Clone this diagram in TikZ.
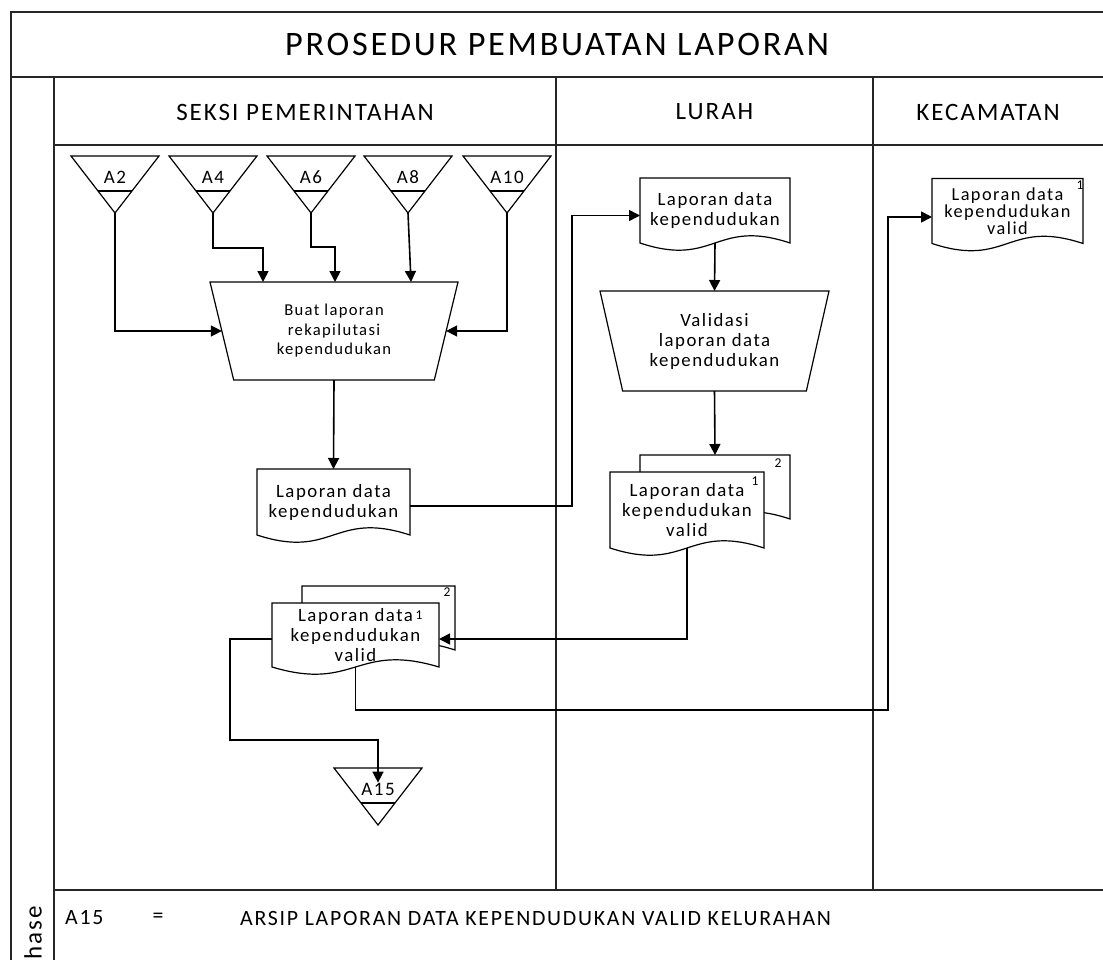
\documentclass[tikz,border=0pt]{standalone}
\usepackage{fontspec}
\setmainfont{Carlito}[LetterSpace=8]
\usetikzlibrary{shapes.geometric, arrows.meta, positioning, calc}
\pgfdeclarelayer{background}
\pgfsetlayers{background,main}

\tikzset{
  frameline/.style={line width=1.6pt, draw=black!85},
  shapeline/.style={line width=1.2pt},
  flow/.style={->, line width=1.6pt},
  docbox/.style={inner sep=0pt, outer sep=0pt, align=center, font=\fontsize{18.8}{20}\selectfont},
  manual/.style={trapezium, trapezium stretches body, shape border rotate=180, draw, shapeline, inner sep=0pt, outer sep=0pt, align=center},
  offtext/.style={inner sep=0pt, font=\fontsize{19}{20}\selectfont},
  numtext/.style={inner sep=0pt, font=\fontsize{13.5}{14}\selectfont},
  headtext/.style={font=\fontsize{25}{27}\selectfont},
  legend/.style={inner sep=0pt, font=\fontsize{21.8}{23}\selectfont},
}

% off-page connector: name, x, top y
\newcommand{\offpage}[3]{%
  \draw[shapeline] (#2-44,#3) -- (#2+44,#3) -- (#2,#3+57) -- cycle;
  \draw[shapeline] (#2-17,#3+35) -- (#2+17,#3+35);
  \node[offtext] (#1) at (#2,#3+21) {#1};
  \coordinate (#1-tip) at (#2,#3+57);
}

% document outline round a node
\newcommand{\docshape}[1]{%
  \draw[shapeline, fill=white] (#1.south east) -- (#1.north east) -- (#1.north west) -- (#1.south west)
    .. controls ($(#1.south west)!0.5!(#1.south east)+(0,25)$) and ($(#1.south west)!0.5!(#1.south east)+(0,-25)$) .. (#1.south east) -- cycle;
}

\begin{document}
\begin{tikzpicture}[x=1pt, y=-1pt, >={Triangle[length=11pt,width=11pt]}]
\useasboundingbox (0,0) rectangle (1103,960);
\clip (0,0) rectangle (1103,960);

% frame and lanes
\draw[frameline] (11,990) -- (11,12) -- (1110,12);
\draw[frameline] (11,77) -- (1110,77);
\draw[frameline] (54,990) -- (54,77);
\draw[frameline] (54,145) -- (1110,145);
\draw[frameline] (556,77) -- (556,890);
\draw[frameline] (873,77) -- (873,890);
\draw[frameline] (54,890) -- (1110,890);

\node[font=\fontsize{34.3}{36}\selectfont] (title) at (557,44) {PROSEDUR PEMBUATAN LAPORAN};
\node[headtext] (seksi) at (305,112) {SEKSI PEMERINTAHAN};
\node[headtext] (lurah) at (714.5,112) {LURAH};
\node[headtext] (camat) at (988,112) {KECAMATAN};
\node[headtext, rotate=90] (phase) at (33,940) {Phase};

% seksi pemerintahan
\offpage{A2}{115}{156}
\offpage{A4}{213}{156}
\offpage{A6}{311}{156}
\offpage{A8}{408}{156}
\offpage{A10}{507}{156}

\node[manual, trapezium angle=66, minimum width=248pt, minimum height=98pt, font=\fontsize{16.6}{19.5}\selectfont] (buat) at (334,331) {Buat laporan\\rekapilutasi\\kependudukan};
\node[docbox, minimum width=153pt, minimum height=66pt] (seksidoc) at (333.5,502) {Laporan data\\kependudukan};
\node[docbox, minimum width=167pt, minimum height=64pt] (seksivalid) at (355.5,635) {Laporan data\\kependudukan\\valid};
\node[docbox, minimum width=153pt, minimum height=64pt] (seksivalidb) at (378.5,618) {};
\node[numtext] (seksinum2) at ([xshift=-8,yshift=-6]seksivalidb.north east) {2};
\node[numtext] (seksinum1) at ([xshift=-20,yshift=-12]seksivalid.north east) {1};
\offpage{A15}{378}{768}

% lurah
\node[docbox, minimum width=150pt, minimum height=65pt] (lurahdoc) at (715,210.5) {Laporan data\\kependudukan};
\node[manual, trapezium angle=68, minimum width=229pt, minimum height=100pt, font=\fontsize{18.8}{20}\selectfont] (validasi) at (714.5,341) {Validasi\\laporan data\\kependudukan};
\node[docbox, minimum width=154pt, minimum height=76pt] (lurahvalid) at (687,510) {Laporan data\\kependudukan\\valid};
\node[docbox, minimum width=150pt, minimum height=64pt] (lurahvalidb) at (715,487) {};
\node[numtext] (lurahnum2) at ([xshift=-12,yshift=-8]lurahvalidb.north east) {2};
\node[numtext] (lurahnum1) at ([xshift=-9,yshift=-9]lurahvalid.north east) {1};

% kecamatan
\node[docbox, minimum width=151pt, minimum height=65pt, font=\fontsize{18.3}{17}\selectfont] (camatdoc) at (1007.5,211) {Laporan data\\kependudukan\\valid};
\node[numtext] (camatnum1) at ([xshift=-3,yshift=-7]camatdoc.north east) {1};

\begin{pgfonlayer}{background}
\docshape{seksidoc}
\docshape{seksivalidb}
\docshape{seksivalid}
\docshape{lurahdoc}
\docshape{lurahvalidb}
\docshape{lurahvalid}
\docshape{camatdoc}
\end{pgfonlayer}

% flows
\draw[flow] (A2-tip) |- (buat.west);
\draw[flow] (A4-tip) -- ++(0,35) -| ([xshift=-71]buat.north);
\draw[flow] (A6-tip) -- ++(0,34) -| ([xshift=1]buat.north);
\draw[flow] (A8-tip) -- ([xshift=77]buat.north);
\draw[flow] (A10-tip) |- (buat.east);
\draw[flow] (buat.south) -- (seksidoc.north);
\draw[flow] ([yshift=-4]seksidoc.east) -- ++(162,0) |- ([yshift=-5]lurahdoc.west);
\draw[flow] (lurahdoc.south) -- (validasi.north);
\draw[flow] (validasi.south) -- (lurahvalidb.north);
\draw[flow] (lurahvalid.south) |- ([yshift=-4]seksivalid.east);
\draw[flow] ([yshift=-4]seksivalid.west) -| ++(-42,101) -| (A15);
\draw[flow] (seksivalid.south) |- ++(532.5,43) |- ([yshift=-6]camatdoc.west);

% legend
\node[legend, anchor=west] (legcode) at (65,918) {A15};
\node[legend] (legeq) at (158,918) {=};
\node[legend, anchor=west] (legtext) at (240,918) {ARSIP LAPORAN DATA KEPENDUDUKAN VALID KELURAHAN};
\end{tikzpicture}
\end{document}
